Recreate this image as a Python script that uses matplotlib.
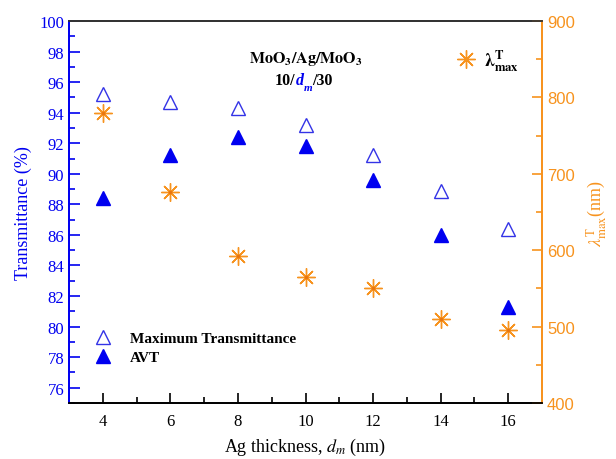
import numpy as np
import matplotlib
matplotlib.use('Agg')
from matplotlib import pyplot as plt
from matplotlib.lines import Line2D

plt.rcParams['font.family'] = 'Liberation Serif'
plt.rcParams['mathtext.fontset'] = 'stix'

# Ag thickness (nm)
thickness = [4, 6, 8, 10, 12, 14, 16]
# transmittance (%)
max_T = [95.2, 94.7, 94.3, 93.2, 91.2, 88.9, 86.4]
avt = [88.4, 91.2, 92.4, 91.8, 89.6, 86.0, 81.3]
# wavelength of max transmittance (nm)
lam_max = [780, 676, 593, 565, 550, 510, 496]

blue = '#0000f0'
orange = '#f7931e'

fig = plt.figure(figsize=(6.16, 4.6), dpi=100)
ax = fig.add_axes([0.112, 0.122, 0.768, 0.830])
ax2 = ax.twinx()

ax.plot(thickness, max_T, ls='none', marker='^', ms=10, mfc='none', mec='#3333e6', mew=1.0)
ax.plot(thickness, avt, ls='none', marker='^', ms=10, mfc=blue, mec=blue)
ax2.plot(thickness, lam_max, ls='none', marker=(8, 2, 0), ms=13, mec=orange, mew=1.0)
ax2.plot(thickness, lam_max, ls='none', marker='o', ms=2.5, mfc='#e87510', mec='none')

ax.set_xlim(3, 17)
ax.set_ylim(75, 100)
ax2.set_ylim(400, 900)
ax.set_xticks(np.arange(4, 17, 2))
ax.set_xticks(np.arange(5, 17, 2), minor=True)
ax.set_yticks(np.arange(76, 101, 2))
ax.set_yticks(np.arange(75, 100, 2), minor=True)
ax2.set_yticks(np.arange(400, 901, 100))
ax2.set_yticks(np.arange(450, 900, 100), minor=True)

ax.tick_params(axis='x', which='both', direction='in', top=False, labelsize=12, colors='black', width=1.2)
ax.tick_params(axis='x', which='major', length=7, pad=7)
ax.tick_params(axis='x', which='minor', length=4)
ax.tick_params(axis='y', which='both', direction='in', colors=blue, labelsize=12, width=1.2)
ax.tick_params(axis='y', which='major', length=8)
ax.tick_params(axis='y', which='minor', length=4)
ax2.tick_params(axis='y', which='both', direction='in', colors=orange, labelsize=12, width=1.2)
ax2.tick_params(axis='y', which='major', length=7)
ax2.tick_params(axis='y', which='minor', length=4)
for lb in ax2.get_yticklabels():
    lb.set_family('Liberation Sans')

for a in (ax, ax2):
    a.spines['left'].set_color(blue)
    a.spines['right'].set_color(orange)
    a.spines['top'].set_color('#333333')
    a.spines['bottom'].set_color('black')
    for s in a.spines.values():
        s.set_linewidth(1.3)

ax.set_xlabel(r'Ag thickness, $d_m$ (nm)', fontsize=13, labelpad=5)
ax.set_ylabel('Transmittance (%)', fontsize=13, color=blue, labelpad=5)
ax2.set_ylabel(r'$\lambda^{\rm T}_{\rm max}$(nm)', fontsize=13, color=orange, labelpad=7)

# annotation
ax.text(10, 97.6, r'$\mathbf{MoO_3/Ag/MoO_3}$', ha='center', va='center', fontsize=11.5)
t1 = ax.text(9.7, 95.85, '10/', ha='right', va='baseline', fontsize=11.5, fontweight='bold')
t2 = ax.annotate('d', xy=(1, 0), xycoords=t1, ha='left', va='bottom', fontsize=11.5,
                 fontweight='bold', style='italic', color=blue)
t3 = ax.annotate('m', xy=(1, 0), xycoords=t2, xytext=(0, -2.5), textcoords='offset points',
                 ha='left', va='bottom', fontsize=8, fontweight='bold', style='italic', color=blue)
ax.annotate('/30', xy=(1, 0), xycoords=t3, xytext=(0, 2.5), textcoords='offset points',
            ha='left', va='bottom', fontsize=11.5, fontweight='bold')

h1 = Line2D([], [], ls='none', marker='^', ms=10, mfc='none', mec='#3333e6')
h2 = Line2D([], [], ls='none', marker='^', ms=10, mfc=blue, mec=blue)
ax.legend([h1, h2], ['Maximum Transmittance', 'AVT'], loc='lower left',
          bbox_to_anchor=(0.01, 0.065), frameon=False, handletextpad=0.8,
          labelspacing=0.35, prop={'weight': 'bold', 'size': 11})
h3 = Line2D([], [], ls='none', marker=(8, 2, 0), ms=13, mec=orange)
ax2.legend([h3], [r'$\mathbf{\lambda^{T}_{max}}$'], loc='upper right',
           bbox_to_anchor=(0.985, 0.975), frameon=False, handletextpad=0.2,
           handlelength=1.6, prop={'size': 13})

fig.savefig('out.png', dpi=100)
